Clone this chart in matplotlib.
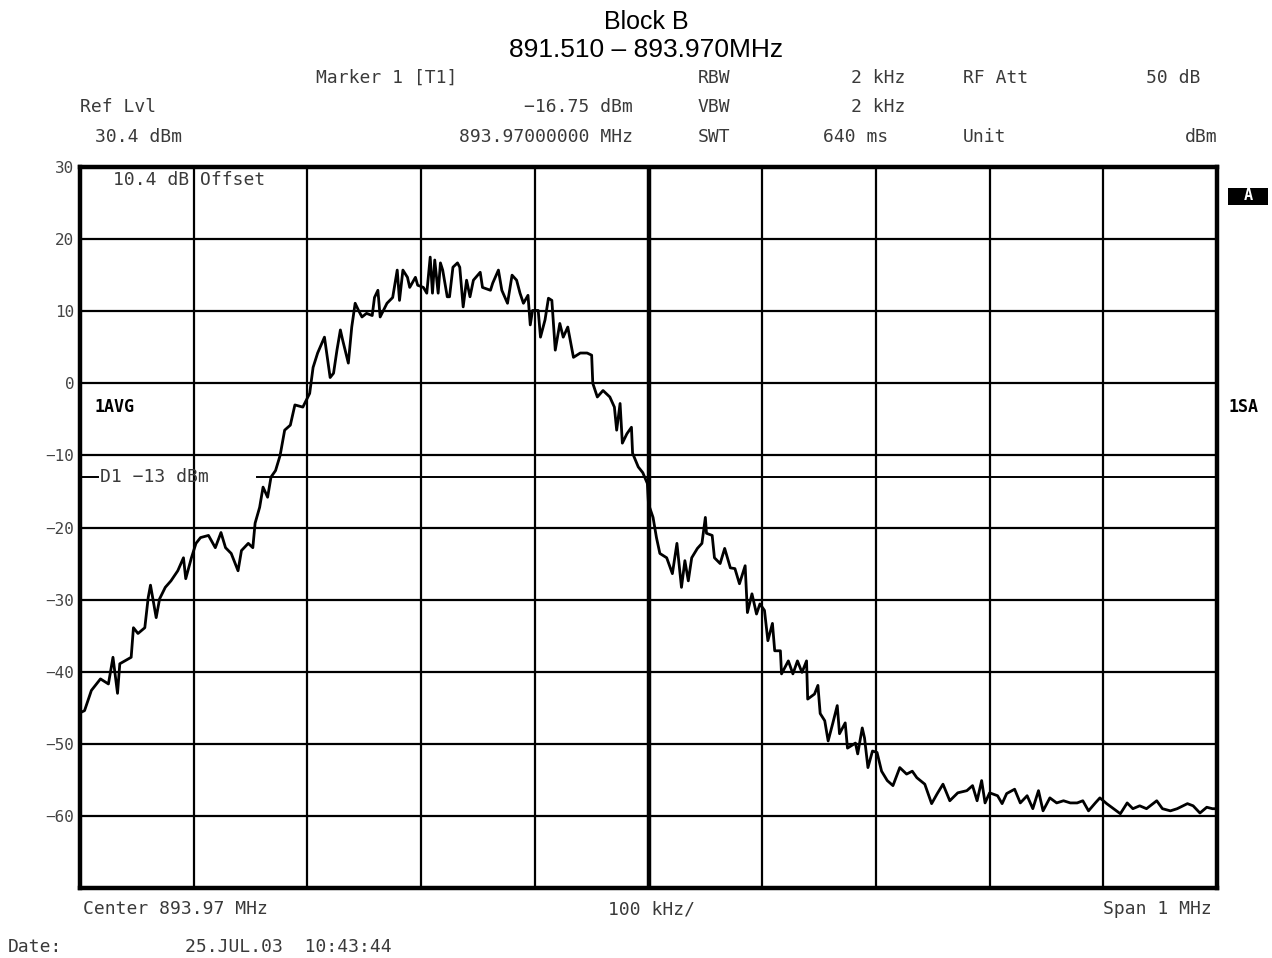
import numpy as np
import matplotlib.pyplot as plt
from matplotlib.patches import Rectangle

# --- trace (offset from center in kHz, level in dBm) ---
freq_khz = [
    -500, -496, -490, -482, -475, -471, -467, -465, -455, -453, -449, -443, -440, -438,
    -433, -430, -425, -420, -414, -409, -407, -402, -398, -394, -387, -381, -376, -372,
    -367, -361, -358, -352, -348, -346, -342, -339, -335, -332, -328, -324, -320, -315,
    -311, -304, -298, -295, -291, -285, -280, -277, -274, -271, -269, -264, -261, -258,
    -255, -252, -248, -243, -241, -238, -236, -230, -225, -221, -219, -216, -212, -210,
    -205, -203, -198, -195, -192, -190, -188, -185, -183, -181, -177, -175, -172, -168,
    -166, -163, -160, -157, -154, -148, -146, -139, -137, -132, -129, -124, -120, -116,
    -113, -110, -106, -104, -102, -97, -95, -91, -88, -85, -82, -78, -75, -71, -66, -60,
    -54, -50, -49, -45, -40, -34, -30, -28, -25, -23, -19, -15, -14, -9, -5, -1, 0, 4,
    7, 10, 16, 21, 25, 29, 32, 35, 38, 43, 47, 50, 51, 56, 58, 63, 67, 72, 76, 80, 85,
    87, 91, 95, 98, 102, 105, 109, 111, 116, 117, 123, 127, 131, 135, 139, 140, 146,
    149, 151, 155, 158, 162, 166, 168, 173, 175, 182, 184, 188, 190, 193, 197, 201, 205,
    210, 215, 221, 227, 232, 236, 243, 249, 254, 259, 265, 272, 280, 285, 289, 293, 296,
    300, 307, 311, 315, 322, 327, 333, 338, 343, 347, 353, 359, 365, 371, 377, 382, 387,
    393, 397, 403, 409, 415, 421, 426, 432, 438, 447, 452, 459, 465, 474, 479, 485, 491,
    496, 500,
]
level_dbm = [
    -45.7, -45.4, -42.6, -41.0, -41.7, -38.0, -43.0, -38.9, -38.0, -33.9, -34.7, -33.9, -29.7, -28.0,
    -32.5, -29.9, -28.3, -27.4, -26.0, -24.2, -27.1, -24.2, -22.2, -21.4, -21.1, -22.8, -20.7, -22.8,
    -23.6, -26.0, -23.2, -22.2, -22.8, -19.4, -17.2, -14.4, -15.8, -13.0, -12.1, -10.0, -6.5, -5.8,
    -3.0, -3.3, -1.4, 2.2, 4.2, 6.4, 0.8, 1.4, 4.6, 7.4, 6.0, 2.8, 7.8, 11.1,
    10.1, 9.2, 9.7, 9.4, 11.9, 12.9, 9.2, 11.1, 11.9, 15.7, 11.5, 15.7, 14.7, 13.3,
    14.7, 13.6, 13.3, 12.5, 17.5, 12.5, 17.1, 12.5, 16.7, 15.7, 12.0, 12.0, 16.1, 16.7,
    16.1, 10.6, 14.3, 12.0, 14.3, 15.4, 13.3, 12.9, 13.9, 15.7, 12.9, 11.1, 15.0, 14.3,
    12.5, 11.1, 12.2, 8.1, 10.1, 10.1, 6.4, 8.8, 11.8, 11.5, 4.6, 8.3, 6.4, 7.8, 3.6, 4.2,
    4.2, 3.9, 0.0, -1.9, -1.0, -1.9, -3.3, -6.5, -2.8, -8.3, -7.0, -6.1, -9.7, -11.6, -12.4, -13.9, -16.75, -18.6,
    -21.4, -23.6, -24.2, -26.4, -22.2, -28.3, -24.6, -27.4, -24.2, -22.9, -22.2, -18.6, -20.8, -21.1, -24.2, -25.0, -22.9, -25.6, -25.7, -27.8, -25.3,
    -31.8, -29.2, -32.0, -30.6, -31.5, -35.7, -33.3, -37.1, -37.1, -40.3, -38.5, -40.3, -38.5, -40.1, -38.5, -43.8, -43.1,
    -41.9, -45.8, -46.8, -49.6, -47.2, -44.7, -48.6, -47.1, -50.6, -49.9, -51.4, -47.8, -49.2, -53.3, -51.0, -51.2, -53.8,
    -55.1, -55.8, -53.3, -54.2, -53.8, -54.7, -55.6, -58.3, -56.9, -55.6, -57.9, -56.8, -56.5, -55.8, -57.9, -55.1, -58.2,
    -56.8, -57.2, -58.3, -56.9, -56.3, -58.2, -57.2, -59.0, -56.5, -59.3, -57.5, -58.2, -57.9, -58.2, -58.2, -57.9, -59.3,
    -58.2, -57.5, -58.3, -59.0, -59.7, -58.2, -59.0, -58.6, -59.0, -57.9, -59.0, -59.3, -59.0, -58.3, -58.6, -59.6, -58.8,
    -59.0, -59.0,
]

y_ticks = [30, 20, 10, 0, -10, -20, -30, -40, -50, -60]
display_line_d1 = -13
mono = "DejaVu Sans Mono"
txt_col = "#3a3a3a"

W, H = 1272, 958
fig = plt.figure(figsize=(W / 100, H / 100), dpi=100)
ax = fig.add_axes([80 / W, 1 - 888 / H, (1217 - 80) / W, (888 - 167) / H])

# grid: 10 x 10 divisions, center line heavier
for f in range(-400, 500, 100):
    ax.axvline(f, color="black", lw=3.2 if f == 0 else 1.6, zorder=1)
for lv in range(-60, 30, 10):
    ax.axhline(lv, color="black", lw=1.6, zorder=1)

# display line D1, broken around its label
ax.axhline(display_line_d1, xmin=0, xmax=0.016, color="black", lw=1.4, zorder=1)
ax.axhline(display_line_d1, xmin=0.156, xmax=1, color="black", lw=1.4, zorder=1)

ax.plot(freq_khz, level_dbm, color="black", lw=2.0, zorder=3)

ax.set_xlim(-500, 500)
ax.set_ylim(-70, 30)
ax.set_xticks([])
ax.set_yticks(y_ticks)
ax.set_yticklabels([f"{v}".replace("-", "\u2212") for v in y_ticks],
                   fontfamily=mono, fontsize=11.5, color="#444444")
ax.tick_params(axis="y", length=0, pad=4)
for s in ax.spines.values():
    s.set_linewidth(3.2)


def px(x, y, s, **kw):
    kw.setdefault("fontsize", 13)
    kw.setdefault("family", mono)
    kw.setdefault("color", txt_col)
    kw.setdefault("va", "center")
    fig.text(x / W, 1 - y / H, s, **kw)


# in-plot annotations
px(113, 180, "10.4 dB Offset")
px(100, 477, "D1 \u221213 dBm")
px(95, 407, "1AVG", fontweight="bold", color="black", fontsize=12)
px(1228, 407, "1SA", fontweight="bold", color="black", fontsize=12)
fig.patches.append(Rectangle((1228 / W, 1 - 205 / H), 40 / W, 17 / H,
                             transform=fig.transFigure, fc="black", ec="none"))
px(1248, 196, "A", fontweight="bold", color="white", fontsize=11, ha="center")

# header
px(646, 22, "Block B", family="Liberation Sans", fontsize=18, color="black", ha="center")
px(646, 50, "891.510 \u2013 893.970MHz", family="Liberation Sans", fontsize=19, color="black",
   ha="center")
px(316, 78, "Marker 1 [T1]")
px(698, 78, "RBW")
px(905, 78, "2 kHz", ha="right")
px(963, 78, "RF Att")
px(1200, 78, "50 dB", ha="right")
px(80, 107, "Ref Lvl")
px(633, 107, "\u221216.75 dBm", ha="right")
px(698, 107, "VBW")
px(905, 107, "2 kHz", ha="right")
px(95, 137, "30.4 dBm")
px(633, 137, "893.97000000 MHz", ha="right")
px(698, 137, "SWT")
px(888, 137, "640 ms", ha="right")
px(963, 137, "Unit")
px(1217, 137, "dBm", ha="right")

# footer
px(83, 909, "Center 893.97 MHz")
px(651, 909, "100 kHz/", ha="center")
px(1212, 909, "Span 1 MHz", ha="right")
px(8, 947, "Date:")
px(185, 947, "25.JUL.03  10:43:44")

fig.savefig("out.png", dpi=100)
